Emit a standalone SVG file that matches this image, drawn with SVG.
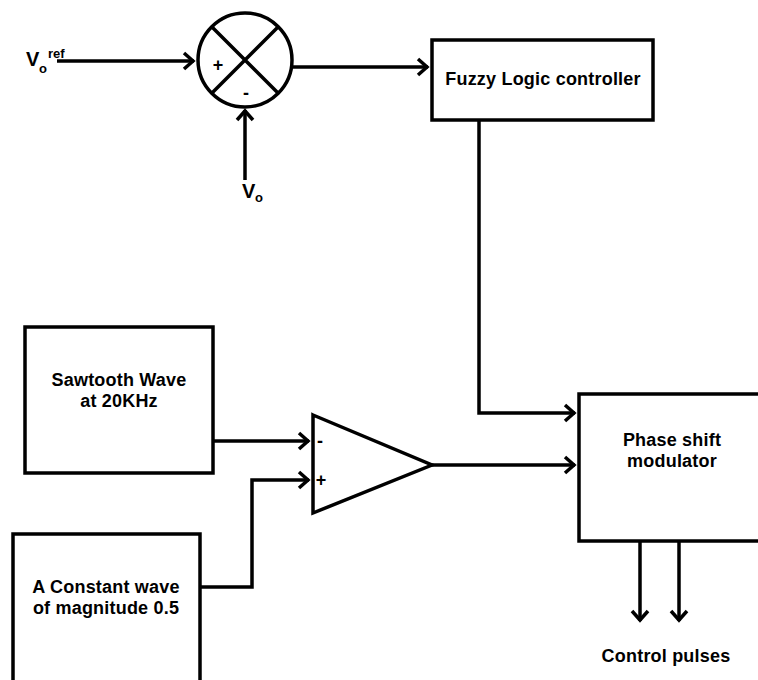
<svg xmlns="http://www.w3.org/2000/svg" width="758" height="680" viewBox="0 0 758 680">
<style>
.box{fill:#fff;stroke:#000;stroke-width:3.5}
.ln{fill:none;stroke:#000;stroke-width:3.5}
.t{font-family:"Liberation Sans",Arial,sans-serif;font-weight:bold;font-size:18px;letter-spacing:0.2px;fill:#000;text-anchor:middle}
.g{font-family:"Liberation Sans",Arial,sans-serif;font-weight:bold;font-size:18px;fill:#000;text-anchor:middle}
.s{font-family:"Liberation Sans",Arial,sans-serif;font-weight:bold;fill:#000}
</style>
<defs>
<marker id="arr" viewBox="-14 -11 16 22" refX="0" refY="0" markerWidth="16" markerHeight="22" markerUnits="userSpaceOnUse" orient="auto">
<path d="M-10,-8 L-1,0 L-10,8" fill="none" stroke="#000" stroke-width="3.5"/>
</marker>
</defs>
<rect width="758" height="680" fill="#fff"/>
<g id="connectors">
<path class="ln" d="M57,61 H194" marker-end="url(#arr)"/>
<path class="ln" d="M245,180 V110" marker-end="url(#arr)"/>
<path class="ln" d="M292,67 H428" marker-end="url(#arr)"/>
<path class="ln" d="M479,120 V413 H575" marker-end="url(#arr)"/>
<path class="ln" d="M213,441 H309" marker-end="url(#arr)"/>
<path class="ln" d="M200,587 H252 V480 H309" marker-end="url(#arr)"/>
<path class="ln" d="M432,465 H575" marker-end="url(#arr)"/>
<path class="ln" d="M640,541 V621" marker-end="url(#arr)"/>
<path class="ln" d="M679,541 V621" marker-end="url(#arr)"/>
</g>
<g id="summer">
<circle cx="245" cy="60" r="47" class="box"/>
<path class="ln" d="M212,27 L278,93 M278,27 L212,93"/>
<text x="218" y="71" class="g">+</text>
<text x="246" y="99" class="g">-</text>
</g>
<g id="vref">
<text x="26" y="66" class="s" font-size="20">V</text>
<text x="39" y="73" class="s" font-size="13">o</text>
<text x="48" y="58" class="s" font-size="13">ref</text>
</g>
<g id="vo">
<text x="242" y="198" class="s" font-size="20">V</text>
<text x="255" y="202" class="s" font-size="13">o</text>
</g>
<g id="fuzzy">
<rect x="432" y="40" width="221" height="80" class="box"/>
<text x="543" y="85" class="t">Fuzzy Logic controller</text>
</g>
<g id="sawtooth">
<rect x="25" y="327" width="188" height="146" class="box"/>
<text x="119" y="386" class="t">Sawtooth Wave</text>
<text x="119" y="407" class="t">at 20KHz</text>
</g>
<g id="constant">
<rect x="13" y="534" width="187" height="160" class="box"/>
<text x="106" y="593" class="t">A Constant wave</text>
<text x="106" y="614" class="t">of magnitude 0.5</text>
</g>
<g id="comparator">
<path class="box" d="M313,415 L432,465 L313,513 Z"/>
<text x="320" y="447" class="g">-</text>
<text x="321" y="486" class="g">+</text>
</g>
<g id="phase">
<rect x="579" y="394" width="190" height="147" class="box"/>
<text x="672" y="446" class="t">Phase shift</text>
<text x="672" y="467" class="t">modulator</text>
</g>
<g id="pulses">
<text x="666" y="662" class="t">Control pulses</text>
</g>
</svg>
